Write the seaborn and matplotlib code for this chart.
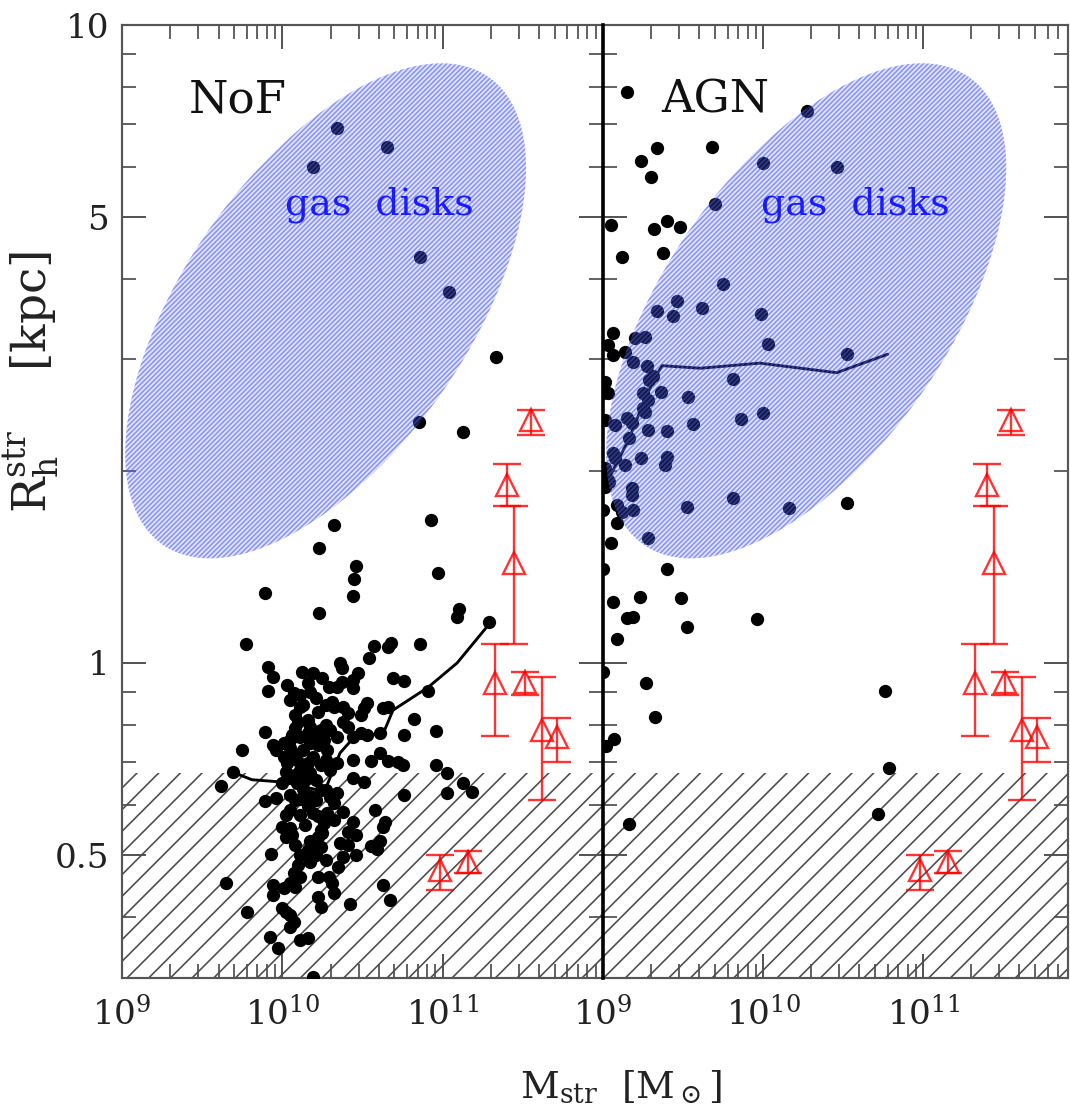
import numpy as np
import matplotlib
matplotlib.use("Agg")
import matplotlib.pyplot as plt
import seaborn as sns
from matplotlib.patches import Polygon
from matplotlib.ticker import NullFormatter

# ---------------------------------------------------------------------------
# Data: log10 stellar mass [Msun] and log10 half-mass radius [kpc]
# ---------------------------------------------------------------------------
nof_logm = [10.34, 10.19, 10.65, 10.86, 11.04, 11.33, 10.85, 11.125, 10.925, 10.32,
            10.23, 10.97, 10.46, 10.45, 10.44, 9.89, 10.23, 11.10, 11.09, 11.29,
            9.775, 10.86, 10.57, 10.66, 10.675, 10.54, 10.36, 10.37, 9.91, 9.94,
            9.91, 10.125, 10.19, 10.25, 10.29, 10.34, 10.475, 10.44, 10.44, 10.03,
            10.07, 10.16, 10.175, 10.375, 10.69, 10.76, 10.91, 10.31, 10.32, 10.38,
            10.41, 10.53, 10.51, 10.49, 10.11, 10.13, 10.625, 10.66, 10.10, 10.16,
            10.175, 10.38, 10.41, 10.82, 9.89, 10.76, 10.96, 9.75, 9.69, 9.62,
            9.94, 9.96, 10.01, 10.05, 10.01, 10.03, 10.02, 10.04, 10.00, 10.11,
            10.16, 10.175, 10.13, 10.09, 10.11, 10.16, 10.19, 10.175, 10.26, 10.28,
            10.27, 10.30, 10.34, 10.34, 10.44, 10.49, 10.53, 10.61, 10.44, 10.44,
            10.55, 10.61, 10.66, 10.72, 10.75, 10.51, 10.96, 11.03, 11.03, 11.125,
            11.18, 10.76, 10.09, 10.13, 10.175, 10.11, 10.16, 10.19, 10.22, 10.26,
            10.30, 10.34, 10.32, 10.28, 10.32, 9.89, 9.96, 10.38, 10.58, 10.00,
            10.05, 10.06, 10.02, 10.44, 10.41, 10.46, 10.36, 10.41, 10.64, 10.625,
            10.61, 10.55, 10.59, 10.175, 10.22, 10.16, 10.19, 10.24, 10.21, 10.38,
            10.46, 10.35, 9.93, 10.10, 10.07, 10.05, 10.08, 10.11, 10.22, 10.29,
            10.31, 10.32, 9.94, 9.94, 10.01, 9.65, 10.625, 10.67, 10.425, 9.78,
            10.00, 10.02, 10.05, 10.07, 10.05, 10.225, 10.24, 9.925, 9.97, 10.11,
            10.16, 10.19, 10.25, 10.08, 10.225, 10.27, 10.06, 10.225, 10.08, 10.24,
            10.05, 10.05, 10.11, 10.21, 10.27, 10.08, 10.24, 10.30, 10.21, 10.05,
            10.08, 10.24, 10.21, 10.14, 10.08, 10.27, 10.05, 10.21, 10.11, 10.24,
            10.14, 10.08, 10.11, 10.27, 10.02, 10.175]
nof_logr = [0.839, 0.777, 0.809, 0.636, 0.581, 0.480, 0.378, 0.362, 0.224, 0.216,
            0.180, 0.141, 0.152, 0.132, 0.105, 0.110, 0.078, 0.085, 0.072, 0.064,
            0.030, 0.030, 0.027, 0.025, 0.031, 0.008, 0.000, -0.008, -0.006, -0.022,
            -0.044, -0.014, -0.016, -0.024, -0.038, -0.038, -0.016, -0.027, -0.039, -0.034,
            -0.047, -0.031, -0.045, -0.030, -0.024, -0.028, -0.044, -0.061, -0.069, -0.069,
            -0.078, -0.063, -0.071, -0.082, -0.069, -0.066, -0.071, -0.069, -0.092, -0.089,
            -0.100, -0.092, -0.100, -0.088, -0.108, -0.113, -0.107, -0.136, -0.171, -0.193,
            -0.129, -0.136, -0.125, -0.133, -0.147, -0.157, -0.171, -0.180, -0.188, -0.116,
            -0.110, -0.125, -0.136, -0.152, -0.168, -0.157, -0.147, -0.172, -0.121, -0.136,
            -0.152, -0.168, -0.157, -0.116, -0.116, -0.110, -0.113, -0.110, -0.152, -0.180,
            -0.154, -0.141, -0.154, -0.155, -0.160, -0.187, -0.160, -0.172, -0.204, -0.188,
            -0.202, -0.207, -0.188, -0.197, -0.208, -0.213, -0.224, -0.235, -0.240, -0.251,
            -0.210, -0.204, -0.219, -0.235, -0.246, -0.216, -0.212, -0.234, -0.231, -0.257,
            -0.259, -0.270, -0.273, -0.249, -0.265, -0.270, -0.282, -0.285, -0.249, -0.257,
            -0.279, -0.287, -0.292, -0.279, -0.273, -0.293, -0.293, -0.288, -0.301, -0.304,
            -0.301, -0.320, -0.299, -0.317, -0.329, -0.345, -0.351, -0.335, -0.335, -0.335,
            -0.345, -0.361, -0.348, -0.364, -0.353, -0.345, -0.348, -0.371, -0.378, -0.390,
            -0.384, -0.390, -0.395, -0.406, -0.414, -0.367, -0.382, -0.429, -0.447, -0.434,
            -0.431, -0.492, -0.266, -0.082, -0.077, -0.097, -0.113, -0.129, -0.215, -0.199,
            -0.230, -0.058, -0.050, -0.055, -0.066, -0.102, -0.105, -0.105, -0.118, -0.121,
            -0.144, -0.160, -0.183, -0.183, -0.176, -0.199, -0.207, -0.215, -0.238, -0.262,
            -0.254, -0.285, -0.301, -0.309, -0.238, -0.312]

agn_logm = [9.15, 10.275, 9.34, 9.68, 9.24, 9.30, 10.00, 10.46, 9.70, 9.05,
            9.40, 9.32, 9.48, 9.12, 9.375, 9.75, 9.46, 9.44, 9.34, 9.62,
            9.99, 9.06, 9.20, 9.26, 10.03, 9.03, 9.06, 9.14, 9.19, 10.525,
            9.275, 9.01, 9.00, 9.03, 9.29, 9.81, 9.36, 9.28, 9.25, 9.53,
            10.00, 9.86, 9.01, 9.075, 9.15, 9.18, 9.56, 9.28, 9.40, 9.16,
            9.06, 9.075, 9.24, 9.40, 9.39, 9.14, 9.01, 9.01, 9.03, 9.01,
            9.18, 9.18, 9.525, 9.81, 10.16, 10.525, 9.00, 9.09, 9.12, 9.19,
            9.09, 9.28, 9.05, 9.00, 9.40, 9.06, 9.23, 9.49, 9.15, 9.19,
            9.525, 9.96, 9.09, 9.00, 9.27, 9.325, 9.07, 9.02, 10.76, 10.79,
            10.72, 9.16, 9.31, 9.25, 9.26, 9.04]
agn_logr = [0.895, 0.865, 0.807, 0.809, 0.787, 0.762, 0.784, 0.777, 0.719, 0.687,
            0.693, 0.680, 0.683, 0.636, 0.643, 0.594, 0.567, 0.544, 0.552, 0.556,
            0.547, 0.517, 0.509, 0.511, 0.500, 0.498, 0.483, 0.487, 0.472, 0.484,
            0.466, 0.440, 0.423, 0.423, 0.444, 0.445, 0.425, 0.412, 0.400, 0.417,
            0.392, 0.382, 0.381, 0.373, 0.384, 0.376, 0.375, 0.365, 0.364, 0.353,
            0.329, 0.321, 0.321, 0.323, 0.310, 0.310, 0.306, 0.292, 0.287, 0.276,
            0.274, 0.263, 0.245, 0.259, 0.243, 0.251, 0.240, 0.248, 0.237, 0.240,
            0.219, 0.196, 0.188, 0.147, 0.147, 0.096, 0.103, 0.102, 0.071, 0.072,
            0.056, 0.069, 0.038, -0.014, -0.031, -0.085, -0.119, -0.130, -0.044, -0.165,
            -0.237, -0.252, 0.450, 0.423, 0.393, 0.284]

# running medians
nof_med_logm = [9.69, 9.81, 10.02, 10.22, 10.28, 10.36, 10.47, 10.625, 10.69, 10.91, 11.09, 11.30]
nof_med_logr = [-0.171, -0.183, -0.187, -0.199, -0.191, -0.141, -0.110, -0.113, -0.074, -0.038, 0.000, 0.064]
agn_med_logm = [9.01, 9.16, 9.26, 9.325, 9.37, 9.61, 9.98, 10.46, 10.78]
agn_med_logr = [0.276, 0.350, 0.412, 0.448, 0.466, 0.462, 0.470, 0.455, 0.484]

# observed compact galaxies (red triangles) with error bars, in Msun / kpc
obs_mass = [3.55e11, 2.51e11, 2.78e11, 2.11e11, 3.25e11, 4.16e11, 5.16e11, 9.58e10, 1.43e11]
obs_r = [2.405, 1.901, 1.435, 0.930, 0.934, 0.785, 0.766, 0.474, 0.488]
obs_r_lo = [2.278, 1.762, 1.071, 0.768, 0.891, 0.610, 0.700, 0.440, 0.469]
obs_r_hi = [2.492, 2.050, 1.762, 1.071, 0.968, 0.951, 0.820, 0.500, 0.507]

# gas-disk locus: ellipse in (log M, log R) space
disk_center = [10.27, 0.552]
disk_cov = [[1.5625, 0.28], [0.28, 0.1505]]
# resolution limit [kpc]
r_resolution = 0.672

panel_names = ["NoF", "AGN"]
x_tick_values = [1e9, 1e10, 1e11, 1e12]
x_tick_labels = [r"$10^{9}$", r"$10^{10}$", r"$10^{11}$", ""]
y_major = [0.5, 1, 5, 10]
y_major_labels = ["0.5", "1", "5", "10"]
y_minor = [0.4, 0.6, 0.7, 0.8, 0.9, 2, 3, 4, 6, 7, 8, 9]

# ---------------------------------------------------------------------------
sns.set_theme(style="ticks")
plt.rcParams.update({
    "font.family": ["DejaVu Serif"],
    "mathtext.fontset": "dejavuserif",
    "hatch.linewidth": 0.9,
    "axes.edgecolor": "#555555",
    "axes.linewidth": 1.2,
})

DPI = 130
W, H = 1070, 1118
fig = plt.figure(figsize=(W / DPI, H / DPI), dpi=DPI)
ax_l = fig.add_axes([122 / W, 1 - 978 / H, 481 / W, 953 / H])
ax_r = fig.add_axes([603 / W, 1 - 978 / H, 465 / W, 953 / H])

YLIM = (0.3208, 10)
XLIMS = [(1e9, 1e12), (1e9, 10 ** 11.906)]
RED = (1.0, 0.0, 0.0, 0.8)

t = np.linspace(0, 2 * np.pi, 500)
chol = np.linalg.cholesky(np.array(disk_cov))
ell = np.array(disk_center)[:, None] + chol @ np.vstack([np.cos(t), np.sin(t)])
ell_xy = np.column_stack([10 ** ell[0], 10 ** ell[1]])

panels = [
    (ax_l, nof_logm, nof_logr, nof_med_logm, nof_med_logr, (10 ** 10.606, 10 ** 0.718)),
    (ax_r, agn_logm, agn_logr, agn_med_logm, agn_med_logr, (10 ** 10.575, 10 ** 0.718)),
]

for i, (ax, lm, lr, mm, mr, txt_pos) in enumerate(panels):
    ax.set_xscale("log")
    ax.set_yscale("log")

    # resolution limit, hatched
    ax.axhspan(YLIM[0], r_resolution, facecolor="none", edgecolor=(0.3, 0.3, 0.3),
               hatch="//", lw=0, zorder=1)

    sns.scatterplot(x=10 ** np.array(lm), y=10 ** np.array(lr), ax=ax, color="black",
                    s=54, linewidth=0, zorder=3, legend=False)
    sns.lineplot(x=10 ** np.array(mm), y=10 ** np.array(mr), ax=ax, color="black",
                 lw=1.6, sort=False, estimator=None, zorder=3, legend=False)

    # gas disk region: translucent fill + blue hatching
    ax.add_patch(Polygon(ell_xy, closed=True, facecolor=(0.45, 0.5, 1.0, 0.2),
                         edgecolor="none", lw=0, zorder=4))
    ax.add_patch(Polygon(ell_xy, closed=True, facecolor="none",
                         edgecolor=(0.25, 0.32, 0.97, 0.55), hatch="/////////", lw=0,
                         zorder=4))
    ax.text(*txt_pos, "gas  disks", color="#1a1aff", fontsize=21, ha="center",
            va="center", zorder=6)

    ax.errorbar(obs_mass, obs_r,
                yerr=[np.array(obs_r) - np.array(obs_r_lo), np.array(obs_r_hi) - np.array(obs_r)],
                fmt="^", mfc="none", mec=RED, ecolor=RED, ms=12.5, mew=1.3,
                capsize=7.5, capthick=1.3, elinewidth=1.3, zorder=5)

    ax.text(0.241, 0.921, panel_names[i], transform=ax.transAxes, fontsize=25,
            ha="center", va="center", color="#111111", zorder=6)

    ax.set_xlim(*XLIMS[i])
    ax.set_ylim(*YLIM)
    if i == 0:
        ax.set_xticks(x_tick_values, labels=x_tick_labels)
    else:
        ax.set_xticks(x_tick_values[:3], labels=x_tick_labels[:3])
    ax.set_yticks(y_major, labels=y_major_labels)
    ax.set_yticks(y_minor, minor=True)
    ax.yaxis.set_minor_formatter(NullFormatter())
    ax.xaxis.set_minor_formatter(NullFormatter())
    ax.tick_params(which="both", direction="in", top=True, right=True,
                   color="#555555", labelcolor="#222222")
    ax.tick_params(which="major", length=13.5, width=1.1, labelsize=19)
    ax.tick_params(axis="x", which="major", pad=11)
    ax.tick_params(axis="y", which="major", pad=7)
    ax.tick_params(which="minor", length=7.5, width=1.0)
    ax.set_xlabel("")
    ax.set_ylabel("")

ax_r.tick_params(labelleft=False)
ax_r.spines["left"].set_color("black")
ax_r.spines["left"].set_linewidth(2.0)
ax_r.spines["left"].set_zorder(10)

ax_l.set_ylabel(r"$\mathrm{R_h^{str}}$    [kpc]", fontsize=26, color="#222222")
ax_l.yaxis.set_label_coords(-0.125, 0.625)
fig.text(621 / W, 1 - 1088 / H, r"$\mathrm{M_{str}}$  [$\mathrm{M_\odot}$]",
         fontsize=21, ha="center", va="center", color="#222222")

fig.savefig("out.png", dpi=DPI)
